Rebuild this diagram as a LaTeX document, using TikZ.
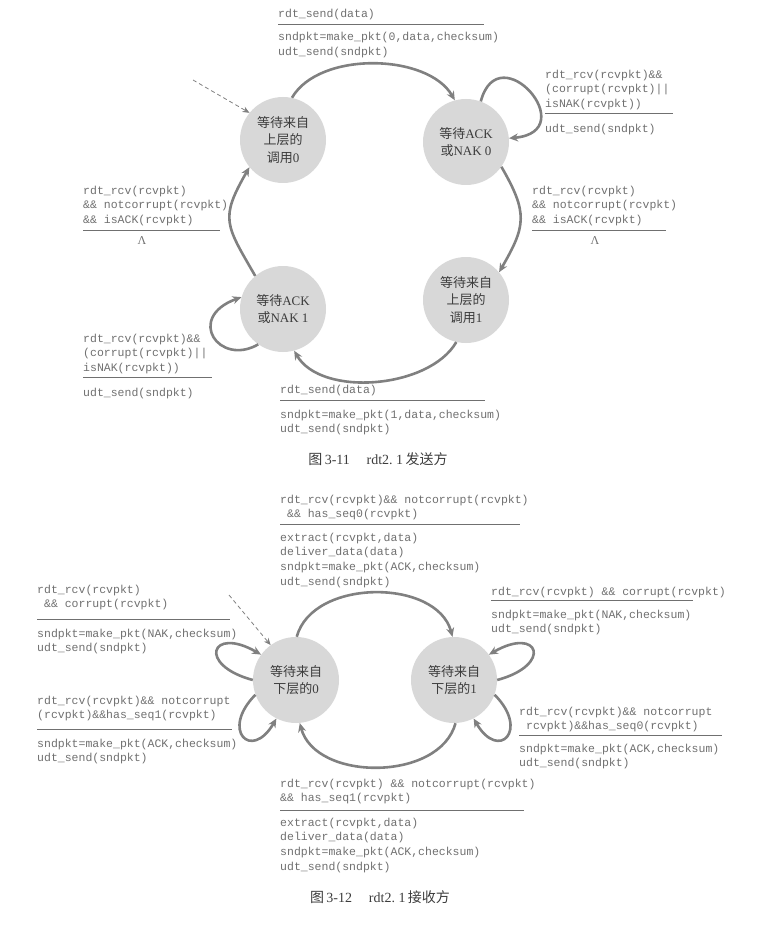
\documentclass[tikz,border=0pt]{standalone}
\usepackage{fontspec}
\usepackage{tikz}
\usetikzlibrary{arrows.meta}
\setmainfont{Liberation Serif}
\newfontfamily\cjk{Noto Sans CJK SC}
\newfontfamily\codefont{Liberation Mono}
\usepackage{xcolor}
\definecolor{codegray}{RGB}{112,112,112}
\definecolor{arcgray}{RGB}{128,128,128}
\definecolor{stategray}{RGB}{216,216,216}
\definecolor{statetext}{RGB}{60,60,60}
\tikzset{%
  wait state/.style={circle, fill=stategray, minimum size=86pt, inner sep=0pt, align=center,
    text=statetext, font=\fontsize{13}{17.5}\selectfont},
  trans arrow/.style={draw=arcgray, line width=2.6pt, -{Stealth[length=9pt,width=8pt]}},
  init arrow/.style={draw=arcgray, line width=0.8pt, dash pattern=on 4pt off 3pt,
    -{Stealth[length=7pt,width=6pt]}},
  code text/.style={anchor=north west, inner sep=0pt, align=left, text=codegray,
    font=\codefont\fontsize{11.5}{14.8}\selectfont},
  split line/.style={draw=codegray, line width=0.8pt},
  lambda mark/.style={text=codegray, font=\fontsize{12}{12}\selectfont},
  caption text/.style={text=statetext, font=\fontsize{14}{14}\selectfont}
}

\begin{document}
\begin{tikzpicture}[x=1pt, y=1pt]
  \useasboundingbox (0,0) rectangle (783,-928);
  % \draw[step=50, gray, very thin] (0,-928) grid (783,0);

  % sender (fig 3-11)
  \node[wait state] (wait0) at (283,-140) {{\cjk 等待来自}\\{\cjk 上层的}\\{\cjk 调用}0};
  \node[wait state] (ack0) at (466,-142) {{\cjk 等待}ACK\\{\cjk 或}NAK 0};
  \node[wait state] (wait1) at (466,-300) {{\cjk 等待来自}\\{\cjk 上层的}\\{\cjk 调用}1};
  \node[wait state] (ack1) at (283,-309) {{\cjk 等待}ACK\\{\cjk 或}NAK 1};

  \coordinate (init0) at (193,-80);
  \draw[init arrow] (init0) -- (wait0.141);

  \draw[trans arrow] (wait0.78) to[out=60, in=120, looseness=0.85] (ack0.105);
  \draw[trans arrow] (ack0.-35) to[out=-60, in=60, looseness=1.3] (wait1.40);
  \draw[trans arrow] (wait1.-103) to[out=-120, in=-60, looseness=0.85] (ack1.-75);
  \draw[trans arrow] (ack1.130) to[out=120, in=-120, looseness=1.4] (wait0.-141);
  \draw[trans arrow] (ack0.70) .. controls +(75:70) and +(5:75) .. (ack0.5);
  \draw[trans arrow] (ack1.235) .. controls +(210:45) and +(200:60) .. (ack1.164);

  \node[code text] (send0g) at (278,-8.5) {rdt\_send(data)};
  \draw[split line] (278,-24.5) -- (484,-24.5);
  \node[code text] (send0a) at (278,-32) {sndpkt=make\_pkt(0,data,checksum)\\udt\_send(sndpkt)};

  \node[code text] (nak0g) at (545,-69.5) {rdt\_rcv(rcvpkt)\&\&\\(corrupt(rcvpkt)||\\isNAK(rcvpkt))};
  \draw[split line] (545,-113) -- (673,-113);
  \node[code text] (nak0a) at (545,-123.5) {udt\_send(sndpkt)};

  \node[code text] (ok0g) at (532,-185.5) {rdt\_rcv(rcvpkt)\\\&\& notcorrupt(rcvpkt)\\\&\& isACK(rcvpkt)};
  \draw[split line] (532,-230) -- (666,-230);
  \node[lambda mark] (ok0a) at (595,-241) {Λ};

  \node[code text] (ok1g) at (83,-185.5) {rdt\_rcv(rcvpkt)\\\&\& notcorrupt(rcvpkt)\\\&\& isACK(rcvpkt)};
  \draw[split line] (83,-230) -- (220,-230);
  \node[lambda mark] (ok1a) at (142,-241) {Λ};

  \node[code text] (nak1g) at (83,-333.5) {rdt\_rcv(rcvpkt)\&\&\\(corrupt(rcvpkt)||\\isNAK(rcvpkt))};
  \draw[split line] (83,-377) -- (212,-377);
  \node[code text] (nak1a) at (83,-387.5) {udt\_send(sndpkt)};

  \node[code text] (send1g) at (280,-384.5) {rdt\_send(data)};
  \draw[split line] (280,-400) -- (485,-400);
  \node[code text] (send1a) at (280,-409.5) {sndpkt=make\_pkt(1,data,checksum)\\udt\_send(sndpkt)};

  \node[caption text] (cap1) at (378,-459) {{\cjk 图}\,3-11\hspace{1.2em}rdt2.\ 1\,{\cjk 发送方}};

  % receiver (fig 3-12)
  \node[wait state] (rcv0) at (296,-680) {{\cjk 等待来自}\\{\cjk 下层的}0};
  \node[wait state] (rcv1) at (454,-680) {{\cjk 等待来自}\\{\cjk 下层的}1};

  \coordinate (init1) at (229,-595);
  \draw[init arrow] (init1) -- (rcv0.126);

  \draw[trans arrow] (rcv0.89) to[out=75, in=105, looseness=1] (rcv1.92);
  \draw[trans arrow] (rcv1.-88) to[out=-105, in=-75, looseness=1] (rcv0.-85);
  \draw[trans arrow] (rcv0.180) .. controls +(165:58) and +(150:58) .. (rcv0.144);
  \draw[trans arrow] (rcv0.200) .. controls +(225:50) and +(240:50) .. (rcv0.243);
  \draw[trans arrow] (rcv1.0) .. controls +(15:58) and +(30:58) .. (rcv1.36);
  \draw[trans arrow] (rcv1.-20) .. controls +(-45:50) and +(-60:50) .. (rcv1.-63);

  \node[code text] (seq0g) at (280,-494.5) {rdt\_rcv(rcvpkt)\&\& notcorrupt(rcvpkt)\\~\&\& has\_seq0(rcvpkt)};
  \draw[split line] (280,-524) -- (520,-524);
  \node[code text] (seq0a) at (280,-532.5) {extract(rcvpkt,data)\\deliver\_data(data)\\sndpkt=make\_pkt(ACK,checksum)\\udt\_send(sndpkt)};

  \node[code text] (bad0g) at (37,-584.5) {rdt\_rcv(rcvpkt)\\~\&\& corrupt(rcvpkt)};
  \draw[split line] (37,-619) -- (230,-619);
  \node[code text] (bad0a) at (37,-628.5) {sndpkt=make\_pkt(NAK,checksum)\\udt\_send(sndpkt)};

  \node[code text] (dup0g) at (37,-695.5) {rdt\_rcv(rcvpkt)\&\& notcorrupt\\(rcvpkt)\&\&has\_seq1(rcvpkt)};
  \draw[split line] (37,-729) -- (232,-729);
  \node[code text] (dup0a) at (37,-738.5) {sndpkt=make\_pkt(ACK,checksum)\\udt\_send(sndpkt)};

  \node[code text] (bad1g) at (491,-586.5) {rdt\_rcv(rcvpkt) \&\& corrupt(rcvpkt)};
  \draw[split line] (491,-600) -- (693,-600);
  \node[code text] (bad1a) at (491,-609.5) {sndpkt=make\_pkt(NAK,checksum)\\udt\_send(sndpkt)};

  \node[code text] (dup1g) at (519,-706.5) {rdt\_rcv(rcvpkt)\&\& notcorrupt\\~rcvpkt)\&\&has\_seq0(rcvpkt)};
  \draw[split line] (519,-735) -- (722,-735);
  \node[code text] (dup1a) at (519,-743.5) {sndpkt=make\_pkt(ACK,checksum)\\udt\_send(sndpkt)};

  \node[code text] (seq1g) at (280,-778.5) {rdt\_rcv(rcvpkt) \&\& notcorrupt(rcvpkt)\\\&\& has\_seq1(rcvpkt)};
  \draw[split line] (280,-810) -- (524,-810);
  \node[code text] (seq1a) at (280,-817.5) {extract(rcvpkt,data)\\deliver\_data(data)\\sndpkt=make\_pkt(ACK,checksum)\\udt\_send(sndpkt)};

  \node[caption text] (cap2) at (380,-897) {{\cjk 图}\,3-12\hspace{1.2em}rdt2.\ 1\,{\cjk 接收方}};
\end{tikzpicture}
\end{document}
